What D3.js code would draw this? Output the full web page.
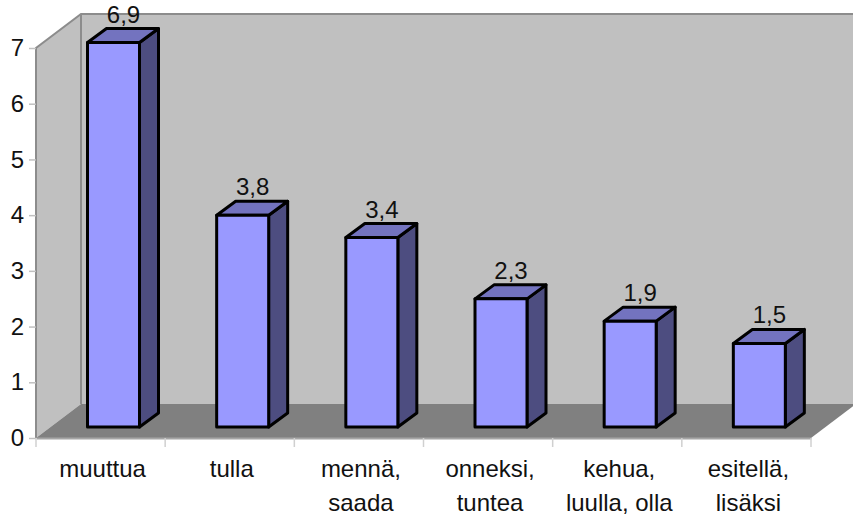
<!DOCTYPE html>
<html><head><meta charset="utf-8">
<script src="https://cdn.jsdelivr.net/npm/d3@7"></script>
<style>html,body{margin:0;padding:0;background:#fff;overflow:hidden}svg{display:block}text{font-family:"Liberation Sans",Arial,sans-serif;fill:#111}</style>
</head><body><svg id="c" width="853" height="514"></svg>
<script>
const categories = ["muuttua","tulla","mennä,\nsaada","onneksi,\ntuntea","kehua,\nluulla, olla","esitellä,\nlisäksi"];
const values = [6.9,3.8,3.4,2.3,1.9,1.5];
const valueLabels = ["6,9","3,8","3,4","2,3","1,9","1,5"];
const yTicks = [0,1,2,3,4,5,6,7];

const svg = d3.select("#c");
const x = d3.scaleBand().domain(categories).range([36,811]);
const y = d3.scaleLinear().domain([0,7]).range([438,48]);
const wallDx = 45, wallDy = -34;
const barDx = 19, barDy = -14, barW = 52, barLeft = 51.5, barLift = 11;
const line = d3.line();
const poly = (pts,fill) => svg.append("path").attr("d",line(pts)+"Z").attr("fill",fill);

const x0=x.range()[0], x1=x.range()[1], y0=y(0), y7=y(7);
poly([[x0,y7],[x0+wallDx,y7+wallDy],[x0+wallDx,y0+wallDy],[x0,y0]],"#c0c0c0");
poly([[x0+wallDx,y7+wallDy],[x1+wallDx,y7+wallDy],[x1+wallDx,y0+wallDy],[x0+wallDx,y0+wallDy]],"#c0c0c0");
poly([[x0,y0],[x0+wallDx,y0+wallDy],[x1+wallDx,y0+wallDy],[x1,y0]],"#808080");
svg.append("path").attr("fill","none").attr("stroke","#8c8c8c").attr("stroke-width",2)
  .attr("d",line([[x0,y0],[x0,y7],[x0+wallDx,y7+wallDy],[x1+wallDx,y7+wallDy]]));
svg.append("path").attr("fill","none").attr("stroke","#8c8c8c").attr("stroke-width",2)
  .attr("d",line([[x0+wallDx,y7+wallDy],[x0+wallDx,y0+wallDy]]));

const yAxis = d3.axisLeft(y).tickValues(yTicks).tickSize(7).tickPadding(5).tickFormat(d3.format("d"));
const gy = svg.append("g").attr("transform",`translate(${x0},0)`).call(yAxis);
gy.select(".domain").remove();
gy.selectAll("line").attr("stroke","#c0c0c0").attr("stroke-width",1.5);
gy.selectAll("text").attr("font-size",24).attr("fill","#111");

const xAxis = d3.axisBottom(x).tickSize(0).tickFormat("");
const gx = svg.append("g").attr("transform",`translate(0,${y0})`).call(xAxis);
gx.select(".domain").attr("stroke","#a6a6a6").attr("stroke-width",2);
gx.selectAll(".tick").remove();
const edges = categories.map(c=>x(c)).concat([x1]);
gx.selectAll("line.sep").data(edges).join("line").attr("class","sep")
  .attr("x1",d=>d).attr("x2",d=>d).attr("y1",0).attr("y2",9).attr("stroke","#d0d0d0").attr("stroke-width",1.5);

const cat = svg.selectAll("text.cat").data(categories).join("text").attr("class","cat")
  .attr("text-anchor","middle").attr("font-size",24);
cat.each(function(d){
  const t=d3.select(this);
  d.split("\n").forEach((s,i)=>t.append("tspan").attr("x",x(d)+x.bandwidth()/2+2).attr("y",477+i*34).text(s));
});

categories.forEach((c,i)=>{
  const l=x(c)+barLeft, r=l+barW, b=y0-barLift, t=b-(y(0)-y(values[i]));
  const g=svg.append("g").attr("stroke","#000").attr("stroke-width",3).attr("stroke-linejoin","round");
  const p=(pts,f)=>g.append("path").attr("d",line(pts)+"Z").attr("fill",f);
  p([[r,t],[r+barDx,t+barDy],[r+barDx,b+barDy],[r,b]],"#4d4d80");
  p([[l,t],[l+barDx,t+barDy],[r+barDx,t+barDy],[r,t]],"#7373bf");
  p([[l,t],[r,t],[r,b],[l,b]],"#9999ff");
  svg.append("text").attr("text-anchor","middle").attr("font-size",24)
    .attr("x",l+barW/2+10).attr("y",t-20).text(valueLabels[i]);
});
</script></body></html>
